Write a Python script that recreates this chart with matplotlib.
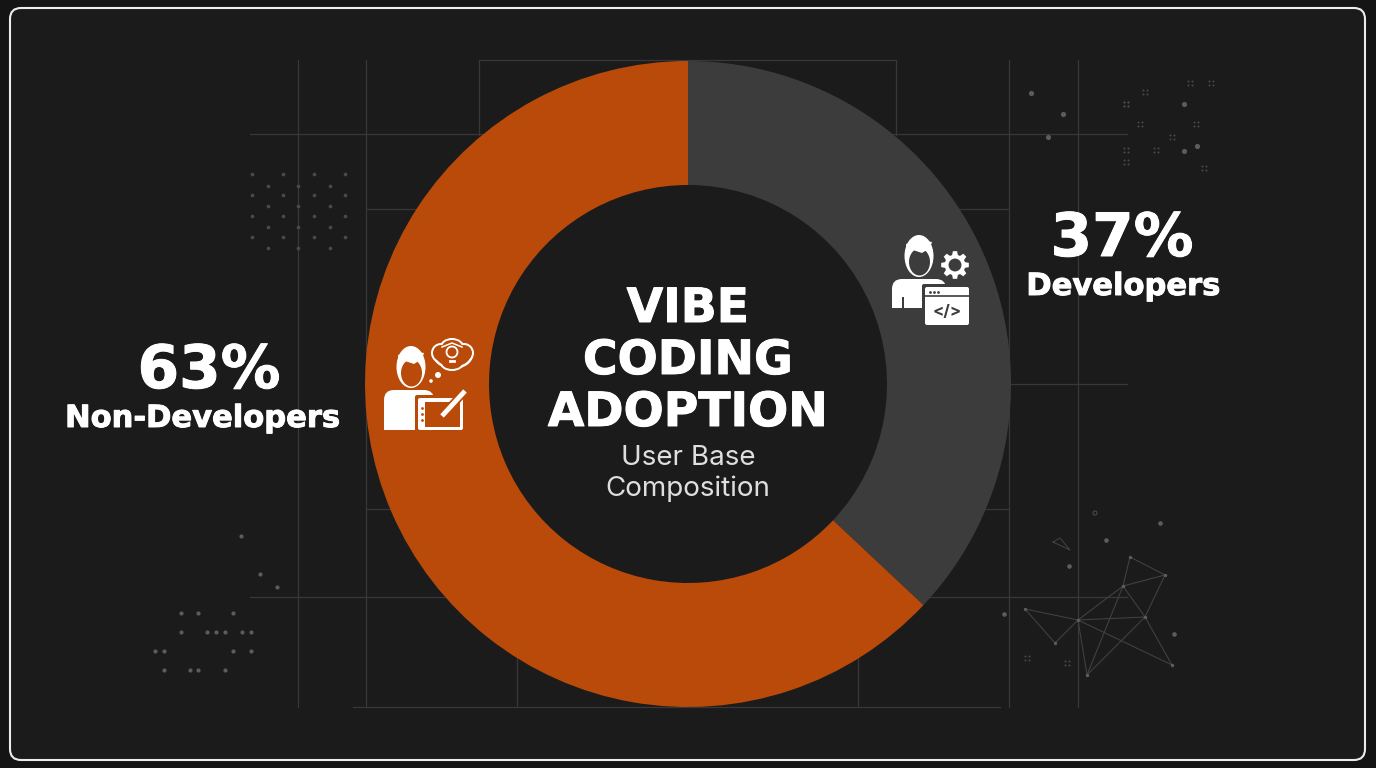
import numpy as np
import matplotlib
matplotlib.use("Agg")
import matplotlib.pyplot as plt
import matplotlib.patheffects as pe
from matplotlib.patches import Circle, Ellipse, FancyBboxPatch, Polygon, Rectangle

# chart values
labels = ["Developers", "Non-Developers"]
shares = [37, 63]
slice_colors = ["#3c3c3c", "#b94a0a"]

title_lines = ["VIBE", "CODING", "ADOPTION"]
subtitle_lines = ["User Base", "Composition"]

# faint background grid, (x, y0, y1) and (y, x0, x1)
grid_v = [(298, 60, 707), (366, 60, 707), (479, 60, 135), (896, 60, 135),
          (1009, 60, 707), (1078, 60, 707), (517, 597, 707), (858, 597, 707)]
grid_h = [(60, 479, 896), (134, 250, 1127), (209, 366, 1009), (384, 1009, 1127),
          (509, 366, 1009), (597, 250, 1127), (707, 353, 1000)]

# dots, x and y in pixels
dots_left_top_x = [252, 283, 298, 314, 330, 345, 268, 252, 283, 314, 345, 252, 283, 314, 345,
                   268, 298, 330, 252, 283, 314, 345, 268, 298, 330, 268, 298, 330]
dots_left_top_y = [174, 174, 186, 174, 186, 174, 186, 195, 195, 195, 195, 216, 216, 216, 216,
                   206, 206, 206, 237, 237, 237, 237, 227, 227, 227, 248, 248, 248]
dots_left_bot_x = [241, 260, 277, 181, 198, 233, 181, 207, 216, 225, 242, 251, 155, 164, 233, 251, 164, 190, 198, 225]
dots_left_bot_y = [536, 574, 587, 613, 613, 613, 632, 632, 632, 632, 632, 632, 651, 651, 651, 651, 670, 670, 670, 670]
dots_right_top_x = [1031, 1063, 1048, 1184, 1184, 1197]
dots_right_top_y = [93, 114, 137, 104, 151, 146]
clusters_x = [1126, 1190, 1211, 1145, 1126, 1140, 1196, 1172, 1126, 1156, 1126, 1204, 1027, 1067]
clusters_y = [104, 83, 83, 92, 104, 124, 124, 137, 150, 150, 162, 168, 658, 663]
dots_right_bot_x = [1160, 1106, 1069, 1174, 1004]
dots_right_bot_y = [523, 540, 566, 634, 614]

net_x = [1130, 1165, 1123, 1078, 1025, 1055, 1087, 1145, 1172]
net_y = [557, 575, 586, 620, 609, 643, 675, 617, 665]
net_edges = [(0, 1), (0, 2), (1, 2), (1, 7), (2, 7), (2, 3), (3, 4), (4, 5), (5, 3), (3, 7), (7, 8),
             (3, 8), (3, 6), (6, 2), (6, 7)]
small_tri_x = [1053, 1060, 1070, 1053]
small_tri_y = [542, 538, 550, 542]

BG = "#1b1b1b"
GRID = "#383838"
DOT = "#5c5c5c"
WHITE = "#ffffff"
HEAD_FONT = ["DejaVu Sans"]
BODY_FONT = ["Inter", "DejaVu Sans"]
HEAVY = [pe.withStroke(linewidth=0.7, foreground=WHITE)]

fig = plt.figure(figsize=(13.76, 7.68), dpi=100, facecolor="#141414")
ax = fig.add_axes([0, 0, 1, 1])
ax.set_xlim(0, 1376)
ax.set_ylim(768, 0)
ax.axis("off")

ax.add_patch(FancyBboxPatch((10, 8), 1355, 752, boxstyle="round,pad=0,rounding_size=11",
                            fc=BG, ec="#ececec", lw=1.5, zorder=1))

for x, y0, y1 in grid_v:
    ax.plot([x, x], [y0, y1], color=GRID, lw=0.9, zorder=2)
for y, x0, x1 in grid_h:
    ax.plot([x0, x1], [y, y], color=GRID, lw=0.9, zorder=2)

ax.scatter(dots_left_top_x, dots_left_top_y, s=7, color="#4a4a4a", lw=0, zorder=2)
ax.scatter(dots_left_bot_x, dots_left_bot_y, s=9, color=DOT, lw=0, zorder=2)
ax.scatter(dots_right_top_x, dots_right_top_y, s=14, color=DOT, lw=0, zorder=2)
ax.scatter(dots_right_bot_x, dots_right_bot_y, s=11, color=DOT, lw=0, zorder=2)
for cx, cy in zip(clusters_x, clusters_y):
    ax.scatter([cx - 2, cx + 2, cx - 2, cx + 2], [cy - 2, cy - 2, cy + 2, cy + 2], s=2,
               color="#4a4a4a", lw=0, zorder=2)

for a, b in net_edges:
    ax.plot([net_x[a], net_x[b]], [net_y[a], net_y[b]], color="#404040", lw=0.8, zorder=2)
ax.plot(small_tri_x, small_tri_y, color="#454545", lw=0.7, zorder=2)
ax.scatter(net_x, net_y, s=6, color=DOT, lw=0, zorder=2)
ax.add_patch(Circle((1095, 513), 2, fc="none", ec="#505050", lw=0.7, zorder=2))

# donut
R_OUT, R_IN = 323, 199
cx, cy = 688, 384
pie_ax = fig.add_axes([(cx - R_OUT) / 1376, 1 - (cy + R_OUT) / 768, 2 * R_OUT / 1376, 2 * R_OUT / 768])
pie_ax.pie(shares, colors=slice_colors, startangle=90, counterclock=False, radius=1,
           wedgeprops={"width": 1 - R_IN / R_OUT, "linewidth": 0})
pie_ax.add_patch(Circle((0, 0), R_IN / R_OUT, fc=BG, ec="none", zorder=0))
pie_ax.set_xlim(-1, 1)
pie_ax.set_ylim(-1, 1)
pie_ax.patch.set_alpha(0)

# overlay for text and icons
top = fig.add_axes([0, 0, 1, 1])
top.set_xlim(0, 1376)
top.set_ylim(768, 0)
top.axis("off")
top.patch.set_alpha(0)


def gear(ax, x, y, r, bg, teeth=8):
    pts = []
    for i in range(teeth):
        a = 2 * np.pi * i / teeth
        w = np.pi / teeth * 0.55
        for da, rad in [(-w * 1.3, r * 0.74), (-w * 0.7, r), (w * 0.7, r), (w * 1.3, r * 0.74)]:
            pts.append((x + rad * np.cos(a + da), y + rad * np.sin(a + da)))
    ax.add_patch(Polygon(pts, closed=True, fc=WHITE, ec="none", zorder=6))
    ax.add_patch(Circle((x, y), r * 0.46, fc=bg, ec="none", zorder=7))


def person(ax, x, top_y, body_w, bottom, bg):
    # body
    ax.add_patch(FancyBboxPatch((x - 27, top_y + 43), body_w, bottom - top_y - 30,
                                boxstyle="round,pad=0,rounding_size=10", fc=WHITE, ec="none", zorder=6))
    ax.add_patch(Rectangle((x - 27, bottom - 12), body_w, 12, fc=WHITE, ec="none", zorder=6))
    ax.add_patch(Rectangle((x - 30, bottom), body_w + 6, 20, fc=bg, ec="none", zorder=6))
    # head with a thick hair cap, face cut out of it
    ax.add_patch(Ellipse((x, top_y + 20), 33, 46, fc=bg, ec="none", zorder=7))
    ax.add_patch(Ellipse((x, top_y + 20), 29, 42, fc=WHITE, ec="none", zorder=8))
    ax.add_patch(Ellipse((x + 0.5, top_y + 26), 21, 27, fc=bg, ec="none", zorder=9))
    ax.add_patch(Polygon([(x - 11, top_y + 22), (x - 6, top_y + 14), (x + 3, top_y + 17),
                          (x + 11, top_y + 12), (x + 13, top_y + 6), (x, top_y + 4), (x - 13, top_y + 8)],
                         closed=True, fc=WHITE, ec="none", zorder=10))


# developer icon
dev_bg = slice_colors[0]
person(top, 919, 236, 54, 308, dev_bg)
top.add_patch(Rectangle((902, 297), 2, 11, fc=dev_bg, ec="none", zorder=9))
gear(top, 955, 265, 14, dev_bg)
top.add_patch(FancyBboxPatch((922, 284), 50, 43, boxstyle="round,pad=0,rounding_size=2", fc=dev_bg, ec="none", zorder=10))
top.add_patch(FancyBboxPatch((925, 287), 44, 38, boxstyle="round,pad=0,rounding_size=2", fc=WHITE, ec="none", zorder=11))
top.plot([925, 969], [296, 296], color=dev_bg, lw=1.2, zorder=12)
top.scatter([930, 934, 938], [291.5, 291.5, 291.5], s=4, color=dev_bg, lw=0, zorder=13)
top.text(947, 311, "</>", color=dev_bg, fontsize=12, fontweight="bold", ha="center", va="center",
         family=BODY_FONT, zorder=13)

# non-developer icon
non_bg = slice_colors[1]
person(top, 411, 347, 50, 430, non_bg)
for ex, ey, ew, eh in [(453, 355, 40, 28), (441, 353, 20, 20), (464, 353, 20, 20), (452, 347, 24, 18), (452, 363, 24, 16)]:
    top.add_patch(Ellipse((ex, ey), ew, eh, fc=WHITE, ec="none", zorder=6))
for ex, ey, ew, eh in [(453, 355, 35, 23), (441, 353, 16, 16), (464, 353, 16, 16), (452, 347, 20, 14), (452, 363, 20, 12)]:
    top.add_patch(Ellipse((ex, ey), ew, eh, fc=non_bg, ec="none", zorder=7))
top.add_patch(Circle((452, 352), 5.5, fc=non_bg, ec=WHITE, lw=1.3, zorder=8))
top.plot([442, 452, 462], [347, 343, 347], color=WHITE, lw=1.1, zorder=8)
top.plot([450, 454], [361, 361], color=WHITE, lw=2, zorder=8)
top.add_patch(Circle((438, 375), 3, fc=WHITE, ec="none", zorder=6))
top.add_patch(Circle((431, 381), 1.8, fc=WHITE, ec="none", zorder=6))
top.add_patch(FancyBboxPatch((415, 395), 51, 38, boxstyle="round,pad=0,rounding_size=2", fc=non_bg, ec="none", zorder=10))
top.add_patch(FancyBboxPatch((418, 398), 45, 32, boxstyle="round,pad=0,rounding_size=2", fc=WHITE, ec="none", zorder=11))
top.add_patch(Rectangle((425, 402), 35, 25, fc=non_bg, ec="none", zorder=12))
top.scatter([421.5, 421.5, 421.5], [408, 414, 420], s=4, color=non_bg, lw=0, zorder=13)
top.plot([441, 466], [417, 390], color=non_bg, lw=6, zorder=13, solid_capstyle="butt")
top.plot([442, 465], [416, 391], color=WHITE, lw=3.5, zorder=14, solid_capstyle="butt")

# text
for line, y in zip(title_lines, [322, 374, 426]):
    top.text(688, y, line, color=WHITE, fontsize=34, fontweight="bold", ha="center", va="baseline",
             family=HEAD_FONT, zorder=20, path_effects=HEAVY)
for line, y in zip(subtitle_lines, [465, 496]):
    top.text(688, y, line, color="#dedede", fontsize=20, ha="center", va="baseline", family=BODY_FONT, zorder=20)

top.text(1122, 256, f"{shares[0]}%", color=WHITE, fontsize=43, fontweight="bold", ha="center", va="baseline",
         family=HEAD_FONT, zorder=20, path_effects=HEAVY)
top.text(1123, 295, labels[0], color=WHITE, fontsize=22, fontweight="bold", ha="center", va="baseline",
         family=HEAD_FONT, zorder=20, path_effects=HEAVY)
top.text(209, 388, f"{shares[1]}%", color=WHITE, fontsize=43, fontweight="bold", ha="center", va="baseline",
         family=HEAD_FONT, zorder=20, path_effects=HEAVY)
top.text(202, 427, labels[1], color=WHITE, fontsize=22, fontweight="bold", ha="center", va="baseline",
         family=HEAD_FONT, zorder=20, path_effects=HEAVY)

fig.savefig("out.png", dpi=100, facecolor=fig.get_facecolor())
